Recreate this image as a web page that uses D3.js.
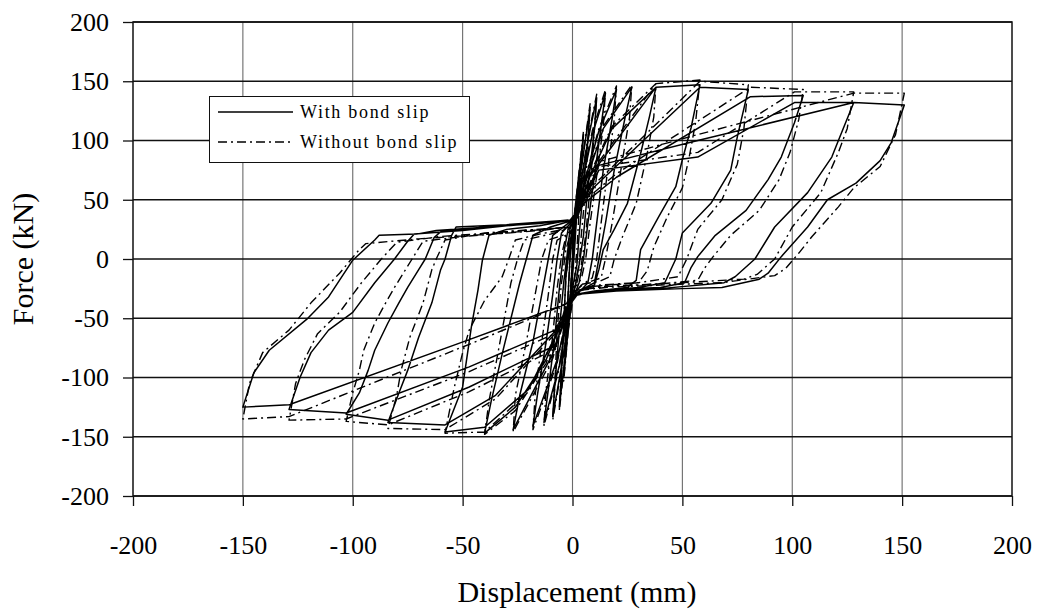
<!DOCTYPE html>
<html><head><meta charset="utf-8">
<script src="https://cdn.jsdelivr.net/npm/d3@7"></script>
<style>
html,body{margin:0;padding:0;background:#fff;}
text{font-family:"Liberation Serif","Times New Roman",serif;fill:#000;}
</style></head>
<body><svg id="chart" width="1045" height="615"></svg>
<script>
// ---- Data (displacement mm, force kN) ----
const xTicks = [-200,-150,-100,-50,0,50,100,150,200];
const yTicks = [-200,-150,-100,-50,0,50,100,150,200];
const seriesNames = ["With bond slip","Without bond slip"];

// With bond slip: cycles of increasing amplitude
const withSlipCycles = [
 [[0,0],[1,30],[3,70],[2,45],[1,20],[0,0],[-1,-30],[-2,-60],[-1,-35],[0,-10],[0,10]],
 [[1,40],[5,105],[4,80],[2,40],[1,10],[0,-15],[-2,-60],[-4,-100],[-3,-70],[-2,-30],[-1,5],[0,25]],
 [[2,50],[8,128],[7,100],[5,60],[3,20],[2,-5],[0,-25],[-2,-60],[-6,-125],[-5,-95],[-4,-55],[-3,-15],[-1,15],[0,28]],
 [[3,55],[7,100],[11,136],[10,110],[7,60],[5,20],[3,-5],[1,-25],[-1,-35],[-4,-80],[-9,-133],[-8,-105],[-6,-60],[-4,-20],[-2,10],[-1,28],[1,32]],
 [[4,60],[9,105],[15,140],[13,112],[10,70],[7,30],[5,0],[3,-20],[1,-30],[-2,-45],[-6,-90],[-13,-138],[-11,-110],[-8,-65],[-6,-25],[-4,5],[-2,25],[1,33]],
 [[5,62],[12,108],[20,143],[18,118],[14,75],[11,30],[9,0],[7,-20],[3,-28],[-1,-38],[-7,-85],[-18,-141],[-16,-115],[-12,-70],[-9,-30],[-7,0],[-5,22],[-1,30],[1,35]],
 [[6,65],[14,110],[27,145],[24,120],[19,75],[15,30],[12,0],[10,-20],[4,-26],[-1,-36],[-9,-80],[-27,-144],[-24,-115],[-18,-70],[-14,-30],[-11,0],[-9,20],[-2,30],[1,35]],
 [[8,70],[18,110],[38,145],[35,120],[31,89],[25,47],[19,25],[14,8],[12,-9],[10,-22],[2,-28],[-2,-40],[-12,-85],[-26,-125],[-40,-147],[-37,-120],[-32,-80],[-28,-50],[-24,-20],[-21,0],[-18,20],[-10,27],[-1,32]],
 [[3,40],[8,70],[38,145],[58,147],[54,111],[50,84],[47,61],[39,35],[31,8],[29,-18],[25,-24],[10,-27],[1,-30],[-5,-55],[-20,-110],[-40,-142],[-58,-146],[-50,-108],[-46,-57],[-43,-26],[-41,-1],[-38,20],[-30,25],[-15,28],[-1,33]],
 [[3,40],[10,61],[58,145],[80,143],[75,103],[72,75],[63,47],[50,22],[47,0],[42,-20],[30,-24],[10,-27],[1,-31],[-5,-55],[-35,-115],[-58,-140],[-84,-138],[-79,-113],[-75,-94],[-70,-66],[-64,-37],[-60,-9],[-58,0],[-55,20],[-53,27],[-30,29],[-1,33]],
 [[4,45],[20,69],[81,137],[105,138],[101,115],[95,86],[89,67],[79,41],[65,20],[57,2],[54,-7],[51,-20],[40,-24],[15,-26],[1,-30],[-8,-73],[-47,-108],[-84,-136],[-103,-131],[-97,-113],[-93,-94],[-90,-77],[-84,-54],[-79,-37],[-75,-24],[-70,-9],[-67,0],[-63,18],[-60,23],[-40,27],[-15,30],[-1,33]],
 [[4,45],[12,75],[57,86],[101,132],[128,132],[121,100],[118,86],[107,56],[92,27],[83,0],[74,-15],[69,-20],[40,-25],[15,-27],[1,-30],[-8,-60],[-47,-91],[-103,-130],[-129,-127],[-124,-100],[-119,-79],[-111,-60],[-100,-45],[-90,-20],[-81,0],[-75,15],[-72,21],[-50,24],[-30,28],[-1,33]],
 [[4,45],[12,79],[57,100],[128,132],[151,130],[145,98],[140,83],[129,64],[116,50],[107,27],[95,2],[89,-12],[85,-17],[68,-24],[50,-25],[20,-27],[1,-30],[-3,-38],[-47,-68],[-129,-123],[-140,-124],[-150,-125],[-145,-96],[-138,-77],[-121,-51],[-111,-32],[-100,-1],[-90,16],[-88,20],[-71,21],[-62,24],[-30,28],[-2,33]]
];

// Without bond slip
const withoutSlipCycles = [
 [[0,0],[1,30],[3,72],[2,45],[1,18],[0,0],[-1,-28],[-2,-62],[-1,-35],[0,-8],[0,10]],
 [[1,40],[5,108],[4,82],[3,40],[2,8],[1,-15],[-2,-62],[-4,-103],[-3,-70],[-2,-30],[-1,5],[0,22]],
 [[2,50],[8,131],[7,100],[6,60],[4,20],[3,-5],[1,-22],[-2,-62],[-6,-128],[-5,-95],[-4,-55],[-3,-15],[-1,15],[0,23]],
 [[3,56],[7,102],[11,139],[10,110],[8,60],[6,20],[4,-5],[2,-20],[-1,-30],[-4,-82],[-9,-136],[-8,-105],[-7,-60],[-5,-20],[-3,8],[-1,21],[1,26]],
 [[4,62],[9,108],[15,143],[14,112],[11,70],[8,30],[6,0],[4,-17],[1,-24],[-2,-42],[-6,-92],[-13,-141],[-12,-110],[-9,-65],[-7,-25],[-5,3],[-3,19],[1,26]],
 [[5,63],[12,110],[20,146],[19,118],[16,75],[13,30],[11,0],[9,-16],[4,-22],[-1,-33],[-7,-88],[-18,-144],[-17,-115],[-14,-70],[-11,-30],[-9,0],[-7,16],[-2,21],[1,26]],
 [[6,66],[14,112],[27,147],[26,120],[22,75],[18,30],[15,0],[13,-16],[5,-21],[-1,-31],[-9,-84],[-27,-146],[-26,-115],[-21,-70],[-17,-30],[-14,0],[-11,16],[-3,21],[1,26]],
 [[8,72],[18,112],[38,148],[37,120],[34,89],[29,47],[23,20],[19,0],[17,-15],[12,-19],[2,-22],[-2,-35],[-12,-88],[-26,-128],[-40,-148],[-38,-120],[-34,-80],[-31,-50],[-28,-20],[-25,0],[-22,16],[-10,21],[-1,26]],
 [[3,42],[8,72],[38,148],[58,151],[56,115],[53,85],[50,60],[43,35],[37,10],[34,-10],[30,-20],[12,-22],[1,-27],[-5,-55],[-20,-112],[-40,-146],[-58,-147],[-54,-110],[-50,-79],[-47,-60],[-40,-35],[-32,-15],[-29,0],[-26,16],[-15,21],[-1,26]],
 [[3,42],[10,63],[58,150],[80,147],[78,110],[75,80],[68,50],[57,25],[52,0],[48,-15],[30,-20],[10,-23],[1,-27],[-5,-57],[-35,-118],[-58,-144],[-84,-143],[-80,-115],[-78,-94],[-74,-66],[-68,-37],[-64,-9],[-62,0],[-58,16],[-40,22],[-1,27]],
 [[4,47],[20,72],[81,145],[105,143],[103,118],[99,90],[94,67],[85,41],[72,20],[64,2],[60,-8],[57,-18],[40,-21],[15,-23],[1,-27],[-8,-76],[-47,-112],[-84,-140],[-103,-137],[-100,-113],[-97,-94],[-95,-77],[-90,-54],[-85,-37],[-81,-24],[-76,-9],[-73,0],[-68,15],[-50,19],[-15,24],[-1,27]],
 [[4,47],[12,78],[57,90],[101,141],[128,141],[125,110],[121,90],[113,56],[100,27],[92,0],[84,-13],[78,-17],[40,-21],[15,-23],[1,-27],[-8,-63],[-47,-95],[-103,-135],[-129,-136],[-126,-105],[-122,-85],[-116,-63],[-106,-45],[-96,-20],[-87,0],[-80,14],[-60,19],[-30,23],[-1,27]],
 [[4,47],[12,82],[57,105],[128,140],[151,140],[147,105],[140,78],[128,60],[121,44],[109,19],[103,5],[97,-8],[92,-14],[68,-20],[40,-22],[15,-24],[1,-27],[-3,-38],[-47,-72],[-129,-133],[-150,-135],[-147,-105],[-141,-79],[-129,-60],[-119,-37],[-106,-12],[-97,8],[-94,13],[-70,17],[-30,22],[-2,27]]
];

// ---- Layout ----
const svg = d3.select("#chart");
const L = 133, R = 1012, T = 22, B = 496;
const x = d3.scaleLinear().domain([-200,200]).range([L,R]);
const y = d3.scaleLinear().domain([-200,200]).range([B,T]);
const FONT = 26, TITLE = 30;

// vertical grid (grey)
svg.append("g").selectAll("line").data(xTicks.filter(d=>d>-200 && d<200)).join("line")
  .attr("x1",d=>x(d)).attr("x2",d=>x(d)).attr("y1",T).attr("y2",B)
  .attr("stroke","#6a6a6a").attr("stroke-width",1.1);
// horizontal grid (black)
svg.append("g").selectAll("line").data(yTicks).join("line")
  .attr("x1",L).attr("x2",R).attr("y1",d=>y(d)).attr("y2",d=>y(d))
  .attr("stroke","#111").attr("stroke-width",1.5);
// frame
svg.append("rect").attr("x",L).attr("y",T).attr("width",R-L).attr("height",B-T)
  .attr("fill","none").attr("stroke","#111").attr("stroke-width",1.5);

// axes
const yAxis = d3.axisLeft(y).tickValues(yTicks).tickSize(10).tickPadding(14).tickFormat(d=>String(d));
const gy = svg.append("g").attr("transform",`translate(${L},0)`).call(yAxis);
const xAxis = d3.axisBottom(x).tickValues(xTicks).tickSize(10).tickPadding(30).tickFormat(d=>String(d));
const gx = svg.append("g").attr("transform",`translate(0,${B})`).call(xAxis);
[gx,gy].forEach(g=>{
  g.select(".domain").remove();
  g.selectAll(".tick line").attr("stroke","#111").attr("stroke-width",1.3);
  g.selectAll(".tick text").style("font-family",'"Liberation Serif","Times New Roman",serif')
   .style("font-size",FONT+"px").attr("fill","#000");
});

// series
const line = d3.line().x(d=>x(d[0])).y(d=>y(d[1]));
const withoutPts = withoutSlipCycles.flat();
const withPts = withSlipCycles.flat();
svg.append("path").datum(withoutPts).attr("d",line).attr("fill","none")
  .attr("stroke","#000").attr("stroke-width",1.4).attr("stroke-dasharray","9,4,2,4")
  .attr("stroke-linejoin","round");
svg.append("path").datum(withPts).attr("d",line).attr("fill","none")
  .attr("stroke","#000").attr("stroke-width",1.5).attr("stroke-linejoin","round");

// legend
const lg = svg.append("g");
lg.append("rect").attr("x",209.5).attr("y",96.5).attr("width",260).attr("height",66)
  .attr("fill","#fff").attr("stroke","#111").attr("stroke-width",1);
const legendRows = [{name:seriesNames[0],dash:null,yy:112},{name:seriesNames[1],dash:"9,4,2,4",yy:142}];
legendRows.forEach(r=>{
  lg.append("line").attr("x1",218).attr("x2",293).attr("y1",r.yy).attr("y2",r.yy)
    .attr("stroke","#000").attr("stroke-width",r.dash?1.4:1.6).attr("stroke-dasharray",r.dash);
  lg.append("text").attr("x",300).attr("y",r.yy+6).text(r.name)
    .style("font-size","18px").style("letter-spacing","1.7px");
});

// axis titles
svg.append("text").attr("x",577).attr("y",602).attr("text-anchor","middle")
  .style("font-size",TITLE+"px").text("Displacement (mm)");
svg.append("text").attr("transform",`translate(33,${y(0)}) rotate(-90)`).attr("text-anchor","middle")
  .style("font-size",TITLE+"px").text("Force (kN)");
</script></body></html>
